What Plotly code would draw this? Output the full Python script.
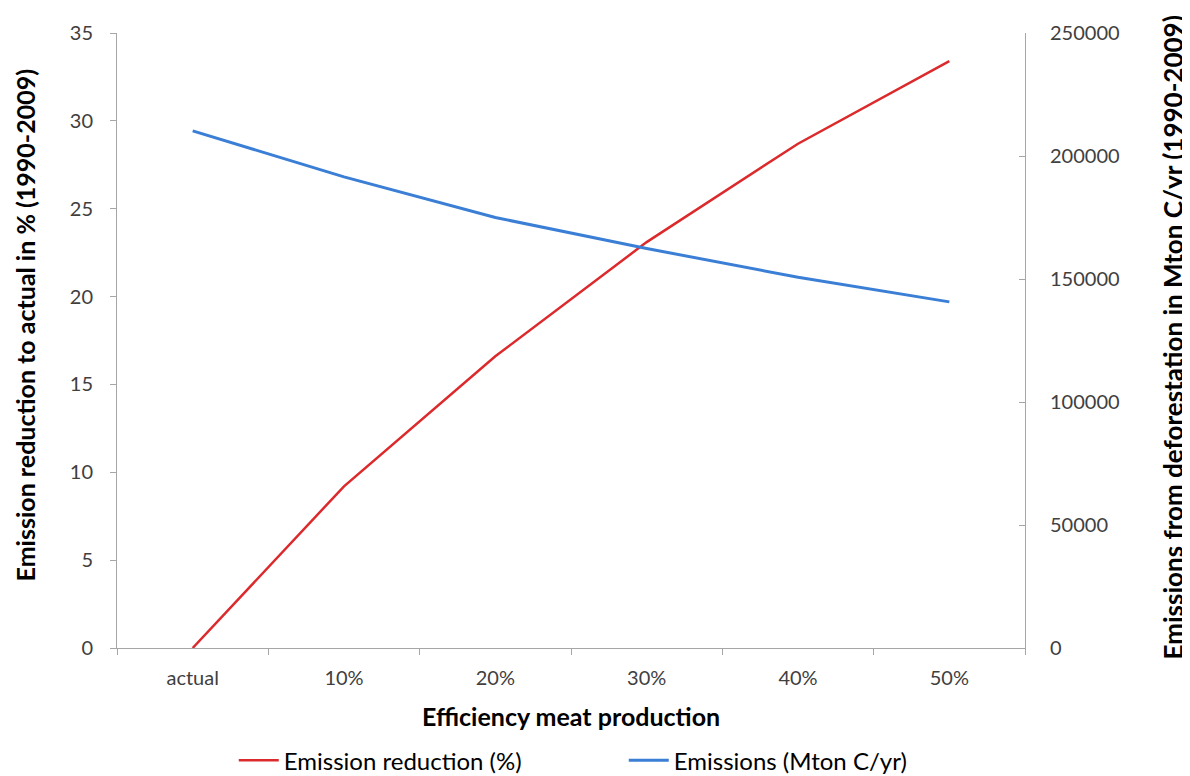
import plotly.graph_objects as go

categories = ["actual", "10%", "20%", "30%", "40%", "50%"]
reduction_pct = [0, 9.2, 16.6, 23.1, 28.7, 33.4]
emissions = [210200, 191500, 175000, 162400, 150700, 140700]

left_ticks = [0, 5, 10, 15, 20, 25, 30, 35]
right_ticks = [0, 50000, 100000, 150000, 200000, 250000]

FONT = "Lato, Open Sans, sans-serif"

fig = go.Figure()
fig.add_trace(go.Scatter(
    x=categories, y=reduction_pct, name="Emission reduction (%)",
    mode="lines", line=dict(color="#DC2A2C", width=2.5), yaxis="y"))
fig.add_trace(go.Scatter(
    x=categories, y=emissions, name="Emissions (Mton C/yr)",
    mode="lines", line=dict(color="#3A7FD5", width=3), yaxis="y2"))

fig.update_layout(
    width=1182, height=768,
    margin=dict(l=109, r=165, t=18, b=128),
    paper_bgcolor="white", plot_bgcolor="white",
    font=dict(family=FONT, size=18, color="#595959"),
    showlegend=True,
    legend=dict(orientation="h", x=0.191, xanchor="left", xref="container",
                y=0.020, yanchor="middle", yref="container",
                font=dict(family=FONT, size=24, color="#000000"),
                itemwidth=40, entrywidth=335, traceorder="normal"),
    xaxis=dict(type="category", range=[-0.5, 5.5], showline=True,
               linecolor="#A6A6A6", linewidth=1, ticks="outside",
               tickson="boundaries", ticklen=6, tickcolor="#A6A6A6",
               showgrid=False, zeroline=False, ticklabelstandoff=12,
               tickfont=dict(family=FONT, size=20, color="#404040")),
    yaxis=dict(range=[0, 35], tickvals=left_ticks, showline=True,
               linecolor="#A6A6A6", linewidth=1, ticks="outside",
               ticklen=6, tickcolor="#A6A6A6", showgrid=False,
               zeroline=False, ticklabelstandoff=13,
               tickfont=dict(family=FONT, size=20, color="#404040")),
    yaxis2=dict(range=[0, 250000], tickvals=right_ticks, tickformat="d",
                overlaying="y", side="right", showline=True,
                linecolor="#A6A6A6", linewidth=1, ticks="inside", ticklen=6,
                tickcolor="#A6A6A6", showgrid=False, zeroline=False,
                ticklabelstandoff=20,
                tickfont=dict(family=FONT, size=20, color="#404040")),
    annotations=[
        dict(text="<b>Emission reduction to actual in % (1990-2009)</b>",
             xref="paper", yref="paper", x=-0.101, y=0.525, textangle=-90,
             showarrow=False, xanchor="center", yanchor="middle",
             font=dict(family=FONT, size=25, color="#000000")),
        dict(text="<b>Emissions from deforestation in Mton C/yr (1990-2009)</b>",
             xref="paper", yref="paper", x=1.163, y=0.505, textangle=-90,
             showarrow=False, xanchor="center", yanchor="middle",
             font=dict(family=FONT, size=26, color="#000000")),
        dict(text="<b>Efficiency meat production</b>",
             xref="paper", yref="paper", x=0.5, y=-0.110,
             showarrow=False, xanchor="center", yanchor="middle",
             font=dict(family=FONT, size=25, color="#000000")),
    ],
)

fig.write_html("out.html")
